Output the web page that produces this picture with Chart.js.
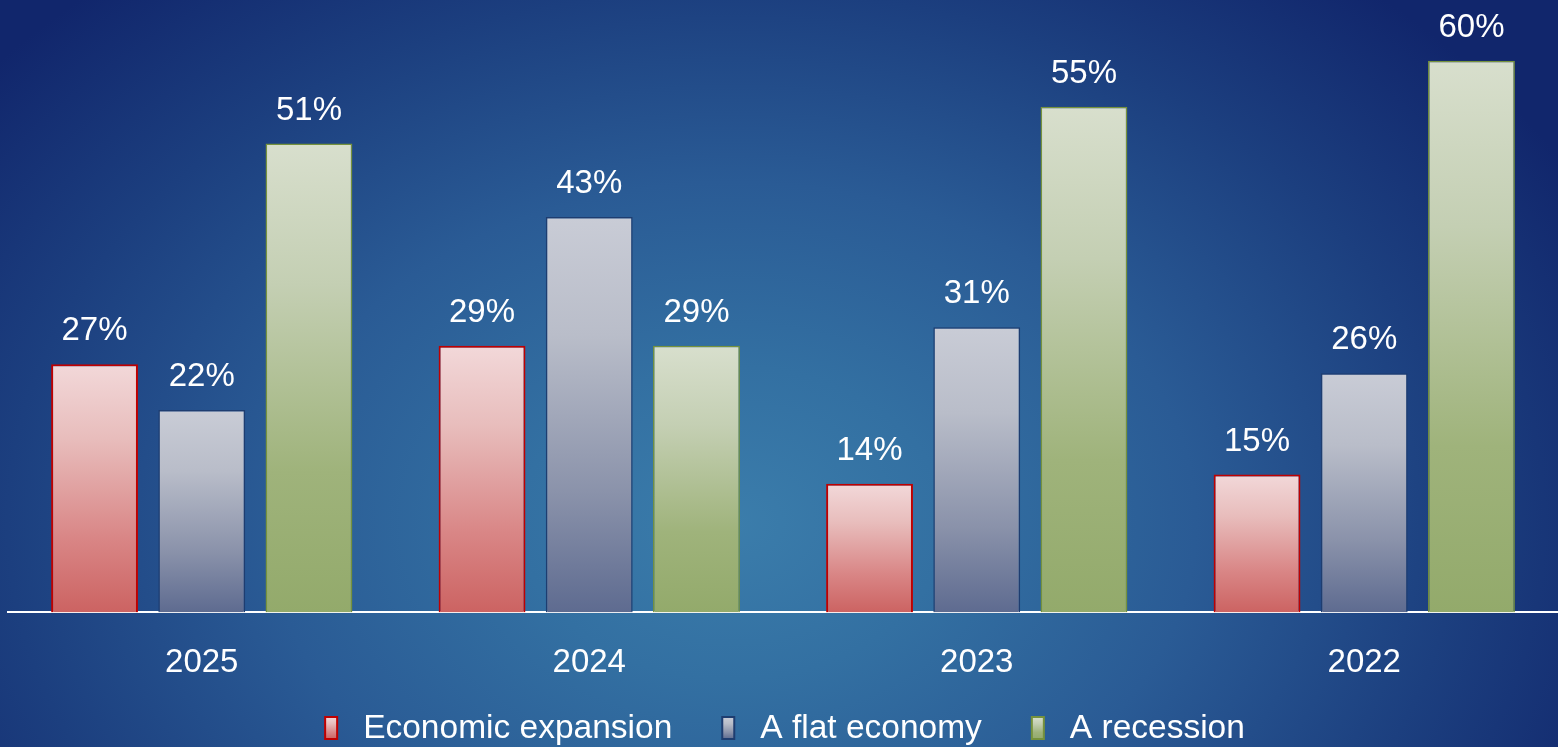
<!DOCTYPE html>
<html>
<head>
<meta charset="utf-8">
<title>Economic outlook by year</title>
<script src="https://cdn.jsdelivr.net/npm/chart.js@4.4.1/dist/chart.umd.min.js"></script>
<style>
  html, body { margin: 0; padding: 0; width: 100%; height: 100%; overflow: hidden; }
  body {
    background: radial-gradient(ellipse 62% 95% at 47% 70%, #3b7dab 0%, #3370a2 22%, #2a5b95 48%, #1c3f7f 75%, #11266c 100%);
  }
  #wrap { position: absolute; left: 0; top: 0; width: 1558px; height: 747px; }
</style>
</head>
<body>
<div id="wrap"><canvas id="outlook"></canvas></div>
<script>
// Survey answers per year (percent of respondents)
const years = ['2025', '2024', '2023', '2022'];
const seriesNames = ['Economic expansion', 'A flat economy', 'A recession'];
const expansion = [27, 29, 14, 15];
const flat = [22, 43, 31, 26];
const recession = [51, 29, 55, 60];

const FONT = "'Liberation Sans', Arial, sans-serif";
Chart.defaults.font.family = FONT;
Chart.defaults.color = '#ffffff';

// top -> bottom colour stops for each series
const palettes = [
  { stops: ['#f2d8d9', '#e8bdbc', '#d98686', '#cc6362'], border: '#c00000', width: 2 },
  { stops: ['#c9ccd6', '#b9bdc9', '#8a92aa', '#5e6b90'], border: '#1e3d70', width: 1.5 },
  { stops: ['#d8dfcd', '#c4cfb3', '#9fb37b', '#93aa6b'], border: '#76923c', width: 1.5 }
];

function barGradient(ctx, top, bottom, stops) {
  const g = ctx.createLinearGradient(0, top, 0, bottom);
  g.addColorStop(0, stops[0]);
  g.addColorStop(0.3, stops[1]);
  g.addColorStop(0.7, stops[2]);
  g.addColorStop(1, stops[3]);
  return g;
}

function fillFor(idx) {
  return function(context) {
    const chart = context.chart;
    const y = chart.scales.y;
    if (!y || !context.parsed) return palettes[idx].stops[2];
    const top = y.getPixelForValue(context.parsed.y);
    const bottom = y.getPixelForValue(0);
    if (!isFinite(top) || !isFinite(bottom) || top === bottom) return palettes[idx].stops[2];
    return barGradient(chart.ctx, top, bottom, palettes[idx].stops);
  };
}

// value labels above every bar
const valueLabels = {
  id: 'valueLabels',
  afterDatasetsDraw(chart) {
    const ctx = chart.ctx;
    ctx.save();
    ctx.font = '33px ' + FONT;
    ctx.fillStyle = '#ffffff';
    ctx.textAlign = 'center';
    ctx.textBaseline = 'middle';
    chart.data.datasets.forEach((ds, i) => {
      chart.getDatasetMeta(i).data.forEach((bar, j) => {
        ctx.fillText(ds.data[j] + '%', bar.x, bar.y - 33);
      });
    });
    ctx.restore();
  }
};

// legend row along the bottom edge
const bottomLegend = {
  id: 'bottomLegend',
  afterDraw(chart) {
    const ctx = chart.ctx;
    const boxW = 12, boxH = 22, textGap = 26, itemGap = 50;
    const cy = chart.height - 19;
    ctx.save();
    ctx.font = '33.5px ' + FONT;
    ctx.textBaseline = 'middle';
    const widths = seriesNames.map(n => ctx.measureText(n).width);
    let total = 0;
    widths.forEach((w, i) => { total += boxW + textGap + w + (i ? itemGap : 0); });
    let x = chart.width / 2 - total / 2 + 6;
    seriesNames.forEach((name, i) => {
      const p = palettes[i];
      ctx.fillStyle = barGradient(ctx, cy - boxH / 2, cy + boxH / 2, p.stops);
      ctx.fillRect(x, cy - boxH / 2, boxW, boxH);
      ctx.strokeStyle = p.border;
      ctx.lineWidth = 2;
      ctx.strokeRect(x, cy - boxH / 2, boxW, boxH);
      ctx.fillStyle = '#ffffff';
      ctx.fillText(name, x + boxW + textGap, cy + 1);
      x += boxW + textGap + widths[i] + itemGap;
    });
    ctx.restore();
  }
};

const datasets = [expansion, flat, recession].map((vals, i) => ({
  label: seriesNames[i],
  data: vals,
  backgroundColor: fillFor(i),
  borderColor: palettes[i].border,
  borderWidth: palettes[i].width,
  borderSkipped: 'bottom',
  categoryPercentage: 0.83,
  barPercentage: 0.81
}));

new Chart(document.getElementById('outlook'), {
  type: 'bar',
  data: { labels: years, datasets: datasets },
  plugins: [valueLabels, bottomLegend],
  options: {
    responsive: true,
    maintainAspectRatio: false,
    animation: false,
    layout: { padding: { left: 8, right: 0, top: 0, bottom: 33 } },
    scales: {
      x: {
        grid: { display: false, drawTicks: false },
        border: { display: true, color: '#ffffff', width: 2 },
        ticks: { color: '#ffffff', font: { size: 33 }, padding: 31 }
      },
      y: {
        display: false,
        min: 0,
        max: 66.6
      }
    },
    plugins: {
      tooltip: { enabled: false },
      legend: { display: false }
    }
  }
});
</script>
</body>
</html>
